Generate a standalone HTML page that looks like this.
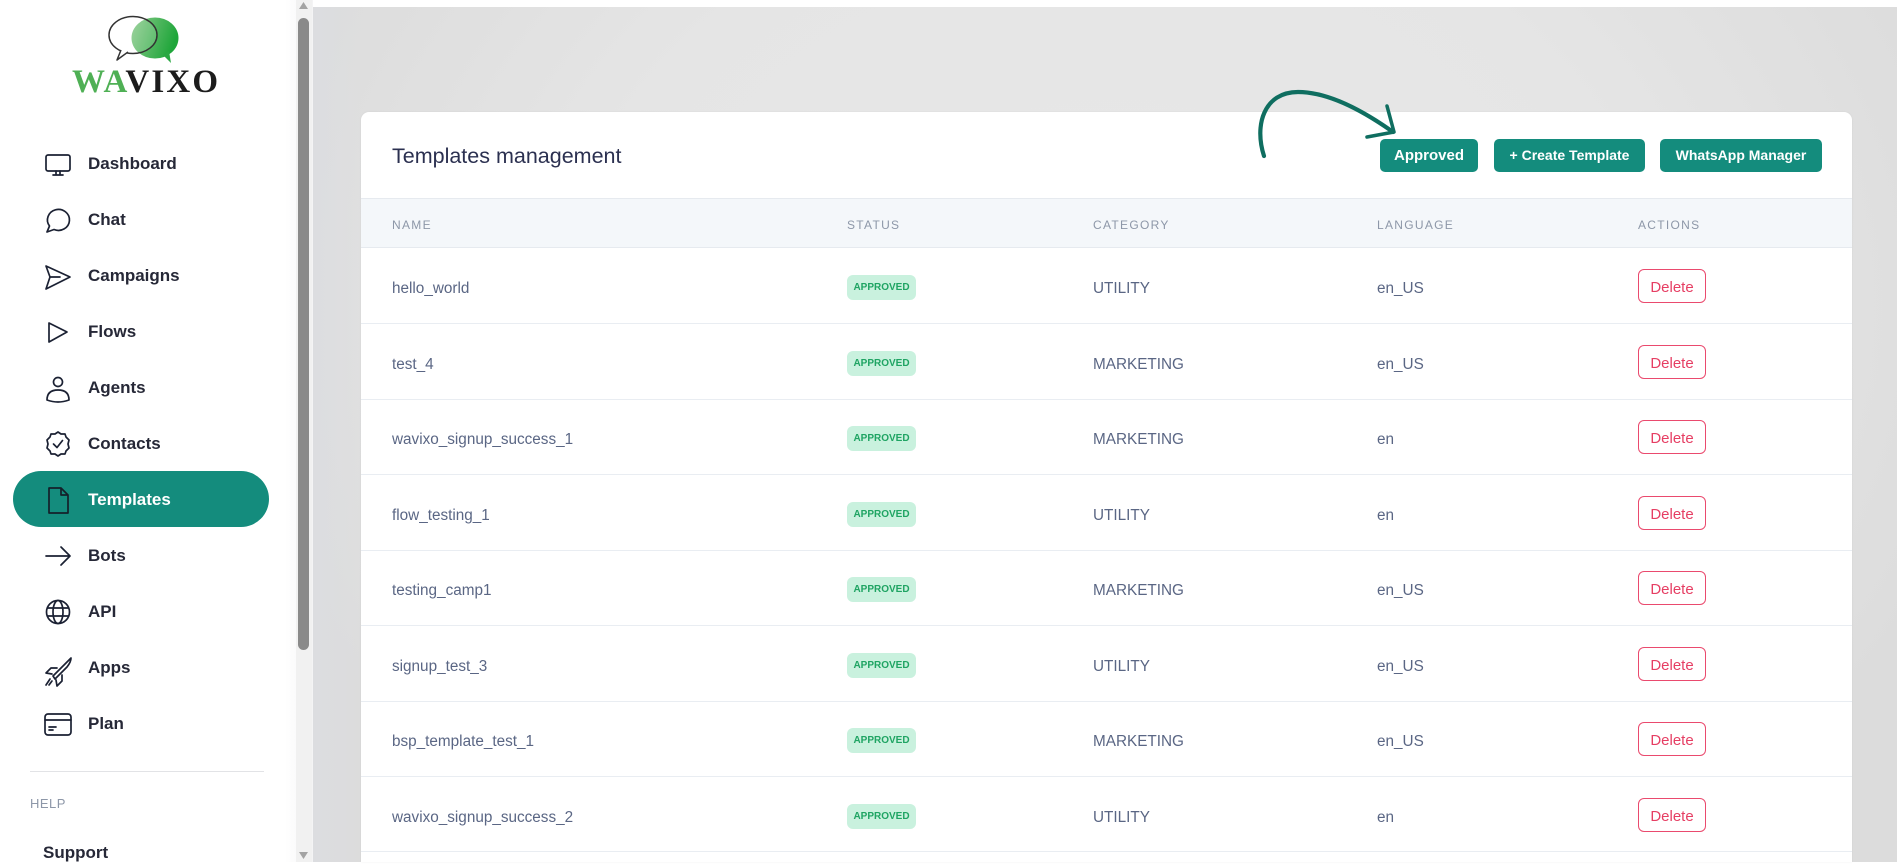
<!DOCTYPE html>
<html><head><meta charset="utf-8">
<style>
*{box-sizing:border-box;margin:0;padding:0}
html,body{width:1897px;height:862px;overflow:hidden;background:#fff;font-family:"Liberation Sans",Arial,sans-serif}
.abs{position:absolute}
#side{left:0;top:0;width:313px;height:862px;background:linear-gradient(90deg,#fff 0,#fff 285px,#f4f4f5 313px)}
.nav{position:absolute;left:88px;font-size:17px;font-weight:bold;color:#262837;height:24px;line-height:24px}
#main{left:313px;top:7px;width:1584px;height:855px;background:radial-gradient(ellipse 900px 700px at 800px 300px,#e8e8e8 0,#e5e5e5 60%,#dcdcdc 100%)}
#mainL{left:313px;top:7px;width:50px;height:855px;background:linear-gradient(90deg,#dcdde0,rgba(229,229,229,0))}
#card{left:361px;top:112px;width:1491px;height:750px;background:#fff;border-radius:8px 8px 0 0;box-shadow:0 0 2px rgba(0,0,0,0.06)}
.btn{position:absolute;top:139px;height:33px;background:#148c7d;color:#fff;border-radius:5px;font-weight:bold;text-align:center;line-height:33px}
.hd{position:absolute;top:217px;font-size:12px;letter-spacing:1.3px;color:#8d97a8;line-height:16px}
.row{position:absolute;left:361px;width:1491px;height:76px;border-bottom:1px solid #e9edf2}
.row div{position:absolute;top:3px;line-height:76px;font-size:15.3px;color:#5a6684}
.badge{position:absolute;left:486px;top:27px;width:69px;height:25px;border-radius:6px;background:#c9f1de;color:#1fa463;font-size:10px;font-weight:bold;text-align:center;line-height:26px}
.del{position:absolute;left:1277px;top:21px;width:68px;height:34px;border:1.3px solid #ea4a6e;border-radius:6px;color:#e63e63;font-size:15px;text-align:center;line-height:35px}
</style></head>
<body>
<div id="side" class="abs"></div>
<div id="main" class="abs"></div>
<div id="mainL" class="abs"></div>
<div id="card" class="abs"></div>

<svg class="abs" style="left:0;top:0" width="313" height="862">
  <defs>
    <linearGradient id="gb" x1="0" y1="0" x2="1" y2="0.3">
      <stop offset="0" stop-color="#8ccb8c"/><stop offset="1" stop-color="#1fa63a"/>
    </linearGradient>
  </defs>
  <ellipse cx="155" cy="38" rx="23.5" ry="20.5" fill="url(#gb)"/>
  <path d="M163,55 L171,63 L169,51 Z" fill="#2aa843"/>
  <ellipse cx="133" cy="35" rx="24" ry="18.5" fill="rgba(255,255,255,0.15)" stroke="#333" stroke-width="1.5"/>
  <path d="M121,50 L117,60 L128,52" fill="#fff" stroke="#333" stroke-width="1.5" stroke-linejoin="round"/>
  <text x="72" y="92" font-family="Liberation Serif,serif" font-weight="bold" font-size="33" letter-spacing="2.2"><tspan fill="#4fb055">WA</tspan><tspan fill="#1c1c1c">VIXO</tspan></text>

  <rect x="13" y="471" width="256" height="56" rx="28" fill="#148c7d"/>

  <g fill="none" stroke="#1b2133" stroke-width="1.7" stroke-linecap="round" stroke-linejoin="round">
    <rect x="46" y="155" width="24" height="16" rx="2"/>
    <path d="M53,175 L63,175 M56,171 L56,175 M60,171 L60,175"/>
    <path d="M49.5,226 A11,10.5 0 1 1 54,229.5 L47,232 Z"/>
    <path d="M46,266 L70,277 L46,289 L50,277 Z M50,277 L60,277"/>
    <path d="M49,323 L67,332 L49,342 Z"/>
    <circle cx="58" cy="382" r="4.5"/>
    <path d="M47,400 Q47,390 58,390 Q69,390 69,400 Q58,404 47,400 Z"/>
    <path d="M58,432 L61,434 L65,434 L66,437 L69,440 L68,444 L69,448 L66,451 L65,454 L61,454 L58,456 L55,454 L51,454 L50,451 L47,448 L48,444 L47,440 L50,437 L51,434 L55,434 Z"/>
    <path d="M53.5,444 L57,447.5 L62.5,440.5"/>
    <path d="M49,488 L61,488 L68,495 L68,513 L49,513 Z M61,488 L61,495 L68,495" stroke="#14202a"/>
    <path d="M46,556 L70,556 M61,547 L70,556 L61,565"/>
    <circle cx="58" cy="612" r="11.5"/>
    <ellipse cx="58" cy="612" rx="5" ry="11.5"/>
    <path d="M47.5,608 L68.5,608 M47.5,616 L68.5,616"/>
    <path d="M53,676 L66,663 Q70,659 71,658 Q71,662 67,667 L55,679 Z"/>
    <path d="M57,668 L51,668 L46,673 L52,674 M62,675 L62,681 L57,686 L56,680"/>
    <path d="M50,679 L46,685 M52,681 L49,685"/>
    <rect x="45" y="714" width="26" height="21" rx="3"/>
    <path d="M45,720 L71,720 M49,727 L56,727 M49,730 L53,730"/>
  </g>

  <rect x="30" y="771" width="234" height="1" fill="#e2e3e6"/>

  <rect x="296" y="0" width="16" height="862" fill="#f1f1f1"/>
  <rect x="298" y="18" width="11" height="632" rx="5.5" fill="#8a8a8a"/>
  <path d="M299,9 L303.5,2 L308,9 Z" fill="#a3a3a3"/>
  <path d="M299,852 L303.5,859 L308,852 Z" fill="#a3a3a3"/>
</svg>

<div class="nav" style="top:152px">Dashboard</div>
<div class="nav" style="top:208px">Chat</div>
<div class="nav" style="top:264px">Campaigns</div>
<div class="nav" style="top:320px">Flows</div>
<div class="nav" style="top:376px">Agents</div>
<div class="nav" style="top:432px">Contacts</div>
<div class="nav" style="top:488px;color:#fff">Templates</div>
<div class="nav" style="top:544px">Bots</div>
<div class="nav" style="top:600px">API</div>
<div class="nav" style="top:656px">Apps</div>
<div class="nav" style="top:712px">Plan</div>
<div class="abs" style="left:30px;top:796px;font-size:13px;color:#8d97a8;letter-spacing:0.5px;line-height:16px">HELP</div>
<div class="nav" style="left:43px;top:841px">Support</div>

<div class="abs" style="left:313px;top:0;width:1584px;height:7px;background:#fff"></div>

<div class="abs" style="left:392px;top:143px;font-size:21.5px;color:#2b3050;line-height:26px">Templates management</div>
<div class="btn" style="left:1380px;width:98px;font-size:15px">Approved</div>
<div class="btn" style="left:1494px;width:151px;font-size:14px">+ Create Template</div>
<div class="btn" style="left:1660px;width:162px;font-size:14px">WhatsApp Manager</div>

<svg class="abs" style="left:1230px;top:70px" width="200" height="110">
  <path d="M34,86 C24,55 34,22 68,22 C98,22 132,40 163,62" fill="none" stroke="#0f6e60" stroke-width="4.2" stroke-linecap="round"/>
  <path d="M137,67 L164,62 L157,36" fill="none" stroke="#0f6e60" stroke-width="3.5" stroke-linecap="round" stroke-linejoin="round"/>
</svg>

<div class="abs" style="left:361px;top:198px;width:1491px;height:50px;background:#f4f7fa;border-top:1px solid #e6eaef;border-bottom:1px solid #e6eaef"></div>
<div class="hd" style="left:392px">NAME</div>
<div class="hd" style="left:847px">STATUS</div>
<div class="hd" style="left:1093px">CATEGORY</div>
<div class="hd" style="left:1377px">LANGUAGE</div>
<div class="hd" style="left:1638px">ACTIONS</div>

<div class="row" style="top:248px"><div style="left:31px">hello_world</div><span class="badge">APPROVED</span><div style="left:732px">UTILITY</div><div style="left:1016px">en_US</div><span class="del">Delete</span></div>
<div class="row" style="top:324px"><div style="left:31px">test_4</div><span class="badge">APPROVED</span><div style="left:732px">MARKETING</div><div style="left:1016px">en_US</div><span class="del">Delete</span></div>
<div class="row" style="top:399px"><div style="left:31px">wavixo_signup_success_1</div><span class="badge">APPROVED</span><div style="left:732px">MARKETING</div><div style="left:1016px">en</div><span class="del">Delete</span></div>
<div class="row" style="top:475px"><div style="left:31px">flow_testing_1</div><span class="badge">APPROVED</span><div style="left:732px">UTILITY</div><div style="left:1016px">en</div><span class="del">Delete</span></div>
<div class="row" style="top:550px"><div style="left:31px">testing_camp1</div><span class="badge">APPROVED</span><div style="left:732px">MARKETING</div><div style="left:1016px">en_US</div><span class="del">Delete</span></div>
<div class="row" style="top:626px"><div style="left:31px">signup_test_3</div><span class="badge">APPROVED</span><div style="left:732px">UTILITY</div><div style="left:1016px">en_US</div><span class="del">Delete</span></div>
<div class="row" style="top:701px"><div style="left:31px">bsp_template_test_1</div><span class="badge">APPROVED</span><div style="left:732px">MARKETING</div><div style="left:1016px">en_US</div><span class="del">Delete</span></div>
<div class="row" style="top:777px;height:75px"><div style="left:31px">wavixo_signup_success_2</div><span class="badge">APPROVED</span><div style="left:732px">UTILITY</div><div style="left:1016px">en</div><span class="del">Delete</span></div>
</body></html>
